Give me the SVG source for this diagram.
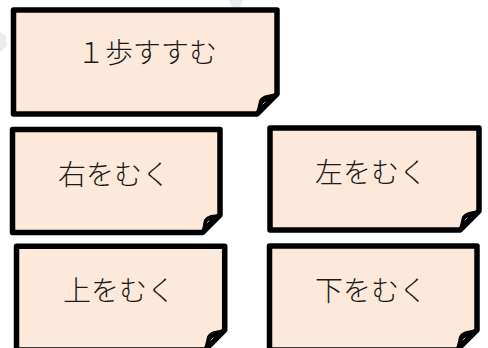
<svg xmlns="http://www.w3.org/2000/svg" width="488" height="348" viewBox="0 0 488 348">
<defs>
<style>
.card{fill:#fde9d9;stroke:#000;stroke-width:5.5;stroke-linejoin:round}
.flap{fill:#000;stroke:#000;stroke-width:2;stroke-linejoin:round}
.hl{fill:none;stroke:#bbb;stroke-width:1;stroke-linecap:round}
.lbl{font-family:"Noto Sans CJK JP","Noto Sans",sans-serif;font-size:28px;font-weight:300;fill:#1a1a1a;text-anchor:middle;dominant-baseline:central}
.wm{fill:#ececec}
</style>
</defs>
<rect width="488" height="348" fill="#fff"/>
<g id="watermark">
<path class="wm" d="M0,32 L6,36 L7,46 L0,52 Z"/>
<path class="wm" d="M229,0 L243,0 L238,13 L233,12 Z"/>
</g>
<g id="node-1">
<path class="card" d="M13.5,10 L277,10 L277,94 L257,114 L13.5,114 Z"/>
<path class="flap" d="M277,94 L257,114 L260,101 Q262,97 267,96 Z"/>
<path class="hl" d="M263,104 L265,102"/>
<text class="lbl" x="147" y="51">１歩すすむ</text>
</g>
<g id="node-2">
<path class="card" d="M12.5,129.5 L220,129.5 L220,215 L202.5,232.5 L12.5,232.5 Z"/>
<path class="flap" d="M220,215 L202.5,232.5 L205,220 Q207,217 211,216 Z"/>
<path class="hl" d="M207,223 L209,221"/>
<text class="lbl" x="114" y="172.5">右をむく</text>
</g>
<g id="node-3">
<path class="card" d="M270,128 L479,128 L479,211 L460,230 L270,230 Z"/>
<path class="flap" d="M479,211 L460,230 L463,217 Q465,214 469,213 Z"/>
<path class="hl" d="M465,220 L467,218"/>
<text class="lbl" x="371" y="171">左をむく</text>
</g>
<g id="node-4">
<path class="card" d="M16.5,246.3 L224.7,246.3 L224.7,330 L205,350 L16.5,350 Z"/>
<path class="flap" d="M224.7,330 L205,350 L208,337 Q210,333 215,332 Z"/>
<path class="hl" d="M211,340 L213,338"/>
<text class="lbl" x="119" y="289">上をむく</text>
</g>
<g id="node-5">
<path class="card" d="M269.5,246 L477,246 L477,330 L457,350 L269.5,350 Z"/>
<path class="flap" d="M477,330 L457,350 L460,337 Q462,333 467,332 Z"/>
<path class="hl" d="M463,340 L465,338"/>
<text class="lbl" x="371" y="289">下をむく</text>
</g>
<g id="connectors"></g>
</svg>
